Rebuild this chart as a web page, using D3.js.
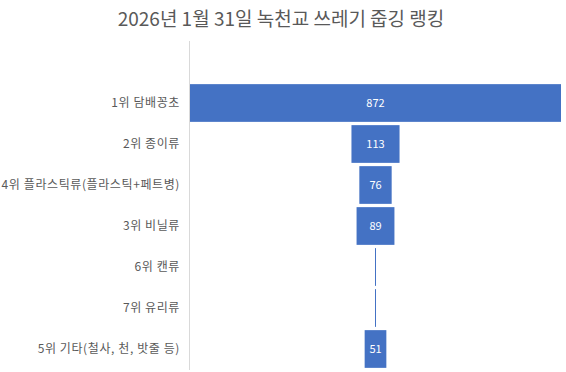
<!DOCTYPE html>
<meta charset="utf-8">
<style>
body { margin: 0; background: #fff; }
.title-text { font: 19px "Noto Sans CJK KR", sans-serif; fill: #595959; }
.cat-text { font: 12px "Noto Sans CJK KR", sans-serif; fill: #595959; letter-spacing: 0.6px; }
.val-text { font: 11px "Noto Sans CJK KR", sans-serif; fill: #fff; }
</style>
<body>
<script src="https://cdn.jsdelivr.net/npm/d3@7"></script>
<script>

// data
var categories = ["1위 담배꽁초", "2위 종이류", "4위 플라스틱류(플라스틱+페트병)", "3위 비닐류",
                  "6위 캔류", "7위 유리류", "5위 기타(철사, 천, 밧줄 등)"];
var counts = [872, 113, 76, 89, 0, 0, 51];

var width = 566, height = 372;
var svg = d3.select("body").append("svg")
    .attr("width", width)
    .attr("height", height);

svg.append("text")
    .attr("class", "title-text")
    .attr("x", 281)
    .attr("y", 26)
    .attr("text-anchor", "middle")
    .text("2026년 1월 31일 녹천교 쓰레기 줍깅 랭킹");

var cx = 375.5;
var w = d3.scaleLinear()
    .domain([0, 872])
    .range([0, 371]);

var y = d3.scaleBand()
    .domain(categories)
    .range([82.5, 369.5])
    .paddingInner(0.08)
    .paddingOuter(0.04);

// axis line
svg.append("line")
    .attr("x1", 189.5).attr("x2", 189.5)
    .attr("y1", 41).attr("y2", 370)
    .attr("stroke", "#d9d9d9")
    .attr("stroke-width", 1);

svg.selectAll(".cat-text")
    .data(categories)
    .enter().append("text")
    .attr("class", "cat-text")
    .attr("x", 180)
    .attr("y", function(d) { return y(d) + y.bandwidth() / 2; })
    .attr("dy", "0.35em")
    .attr("text-anchor", "end")
    .text(function(d) { return d; });

var rows = categories.map(function(c, i) { return {cat: c, val: counts[i]}; });

svg.selectAll(".bar")
    .data(rows)
    .enter().append("rect")
    .attr("class", "bar")
    .attr("x", function(d) { return cx - Math.max(1, w(d.val)) / 2; })
    .attr("width", function(d) { return Math.max(1, w(d.val)); })
    .attr("y", function(d) { return y(d.cat); })
    .attr("height", y.bandwidth())
    .attr("fill", "#4472c4");

svg.selectAll(".val-text")
    .data(rows.filter(function(d) { return d.val > 0; }))
    .enter().append("text")
    .attr("class", "val-text")
    .attr("x", cx)
    .attr("y", function(d) { return y(d.cat) + y.bandwidth() / 2; })
    .attr("dy", "0.35em")
    .attr("text-anchor", "middle")
    .text(function(d) { return d.val; });

</script>
</body>
